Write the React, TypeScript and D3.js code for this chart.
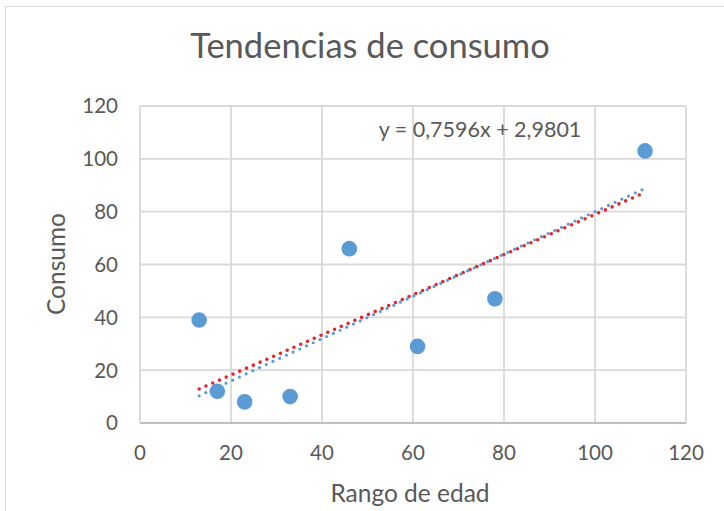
import React from "react";
import * as d3 from "d3";

const ageValues = [13, 17, 23, 33, 46, 61, 78, 111];
const consumoValues = [39, 12, 8, 10, 66, 29, 47, 103];
const xTicks = [0, 20, 40, 60, 80, 100, 120];
const yTicks = [0, 20, 40, 60, 80, 100, 120];
const redTrendCoef = [0.7596, 2.9801]; // slope, intercept
const redTrendRange = [13, 111];
const blueTrendX = [13, 111];
const blueTrendY = [10.3, 88.8];
const titleText = "Tendencias de consumo";
const xAxisTitle = "Rango de edad";
const yAxisTitle = "Consumo";
const equationText = "y = 0,7596x + 2,9801";

const W = 724;
const H = 511;
const font = "Lato, 'Open Sans', sans-serif";
const textColor = "#595959";

export default function App() {
  const x = d3.scaleLinear().domain([0, 120]).range([140, 686]);
  const y = d3.scaleLinear().domain([0, 120]).range([423, 106]);
  const line = d3
    .line<[number, number]>()
    .x((d) => x(d[0]))
    .y((d) => y(d[1]));

  const redPts: [number, number][] = redTrendRange.map((v) => [v, redTrendCoef[0] * v + redTrendCoef[1]]);
  const bluePts: [number, number][] = blueTrendX.map((v, i) => [v, blueTrendY[i]]);

  return (
    <div style={{ position: "fixed", left: 0, top: 0 }}>
      <svg width={W} height={H} style={{ display: "block", background: "#fff" }}>
        <rect x={5.5} y={6.5} width={760} height={560} fill="#fff" stroke="#d9d9d9" strokeWidth={1} />
        <text x={370} y={58} textAnchor="middle" fontFamily={font} fontSize={34.5} fill={textColor}>
          {titleText}
        </text>
        {/* grid */}
        {yTicks.map((t) => (
          <line key={"gy" + t} x1={x(0)} x2={x(120)} y1={y(t)} y2={y(t)} stroke="#d9d9d9" strokeWidth={1.8} />
        ))}
        {xTicks.map((t) => (
          <line key={"gx" + t} x1={x(t)} x2={x(t)} y1={y(0)} y2={y(120)} stroke="#d9d9d9" strokeWidth={1.8} />
        ))}
        <line x1={x(0)} x2={x(120)} y1={y(0)} y2={y(0)} stroke="#bfbfbf" strokeWidth={2} />
        {/* tick labels */}
        {yTicks.map((t) => (
          <text key={"ly" + t} x={118} y={y(t)} dy="0.36em" textAnchor="end" fontFamily={font} fontSize={20.5} fill={textColor}>
            {t}
          </text>
        ))}
        {xTicks.map((t) => (
          <text key={"lx" + t} x={x(t)} y={460} textAnchor="middle" fontFamily={font} fontSize={20.5} fill={textColor}>
            {t}
          </text>
        ))}
        <text x={410} y={502} textAnchor="middle" fontFamily={font} fontSize={24.5} fill={textColor}>
          {xAxisTitle}
        </text>
        <text
          transform={`translate(65, 264) rotate(-90)`}
          textAnchor="middle"
          fontFamily={font}
          fontSize={24.5}
          fill={textColor}
        >
          {yAxisTitle}
        </text>
        {/* points */}
        {ageValues.map((a, i) => (
          <circle key={"p" + i} cx={x(a)} cy={y(consumoValues[i])} r={7.8} fill="#5b9bd5" />
        ))}
        {/* trendlines */}
        <path d={line(redPts) || ""} fill="none" stroke="#e3272b" strokeWidth={3.6} strokeLinecap="round" strokeDasharray="0 7.4" />
        <path d={line(bluePts) || ""} fill="none" stroke="#5b9bd5" strokeWidth={3.2} strokeLinecap="round" strokeDasharray="0 7.4" />
        <text x={480} y={137} textAnchor="middle" fontFamily={font} fontSize={21.5} fill={textColor}>
          {equationText}
        </text>
      </svg>
    </div>
  );
}
